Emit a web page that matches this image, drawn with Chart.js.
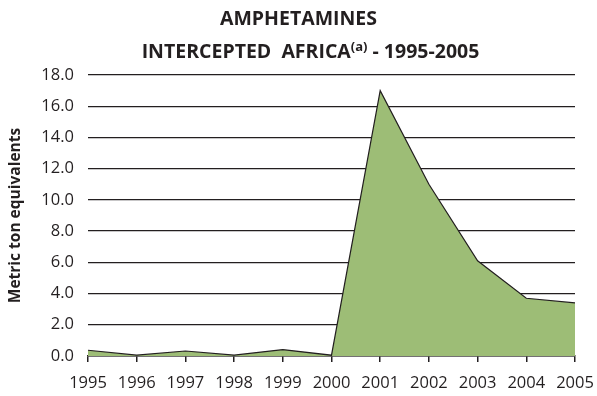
<!DOCTYPE html>
<html>
<head>
    <title>Amphetamines intercepted Africa</title>
    <script src="https://cdn.jsdelivr.net/npm/chart.js"></script>
    <style>
        body { margin: 0; background: #fff; }
        .wrap { position: relative; width: 597px; height: 396px; }
        .titulo {
            position: absolute;
            left: 0; width: 597px;
            font-family: "Open Sans", sans-serif;
            font-weight: bold;
            font-size: 19.5px;
            color: #231f20;
            text-align: center;
            line-height: 22px;
        }
        .titulo sup { font-size: 13px; line-height: 0; }
    </style>
</head>
<body>

<div class="wrap">
    <div class="titulo" style="top: 7px; left: 0px;">AMPHETAMINES</div>
    <div class="titulo" style="top: 40px; left: 12px;">INTERCEPTED&nbsp; AFRICA<sup>(a)</sup> - 1995-2005</div>
    <canvas id="grafico" width="597" height="396"></canvas>
</div>

<script>
    const anios = ['1995', '1996', '1997', '1998', '1999', '2000', '2001', '2002', '2003', '2004', '2005'];
    const toneladas = [0.37, 0.05, 0.32, 0.05, 0.41, 0.05, 17.0, 11.0, 6.1, 3.7, 3.4];

    const negro = '#231f20';
    const fuente = { family: '"Open Sans", sans-serif', size: 16.5 };

    new Chart(document.getElementById('grafico').getContext('2d'), {
        type: 'line',
        data: {
            labels: anios,
            datasets: [{
                label: 'Metric ton equivalents',
                data: toneladas,
                fill: 'origin',
                backgroundColor: '#9dbd76',
                borderColor: negro,
                borderWidth: 1.2,
                pointRadius: 0,
                tension: 0
            }]
        },
        options: {
            responsive: false,
            animation: false,
            layout: { padding: { top: 75, right: 0, left: 6, bottom: 0 } },
            plugins: {
                legend: { display: false },
                tooltip: { enabled: false }
            },
            scales: {
                x: {
                    offset: false,
                    afterFit: s => { s.height = 40; s.paddingRight = 22; },
                    border: { display: true, color: negro, width: 1.5 },
                    grid: { drawOnChartArea: false, drawTicks: true, tickLength: 6, color: negro, lineWidth: 1.5 },
                    ticks: { color: negro, font: fuente, padding: 11, maxRotation: 0, autoSkip: false }
                },
                y: {
                    min: 0,
                    max: 18,
                    afterFit: s => { s.width = 82; },
                    border: { display: false },
                    grid: { drawTicks: false, color: negro, lineWidth: 1.3 },
                    ticks: {
                        stepSize: 2,
                        color: negro,
                        font: fuente,
                        padding: 14,
                        callback: v => v.toFixed(1)
                    },
                    title: {
                        display: true,
                        text: 'Metric ton equivalents',
                        color: negro,
                        font: { family: '"Open Sans", sans-serif', size: 15.5, weight: 'bold' },
                        padding: { top: 0, bottom: 6 }
                    }
                }
            }
        }
    });
</script>

</body>
</html>
